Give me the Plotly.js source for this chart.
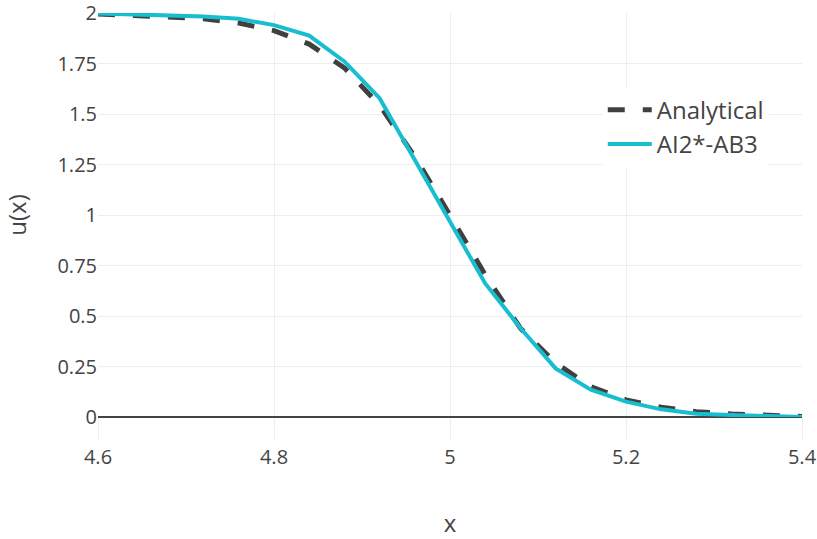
<!DOCTYPE html>
<html>
<head>
<meta charset="utf-8">
<script src="https://cdn.plot.ly/plotly-3.0.1.min.js"></script>
<style>html,body{margin:0;padding:0;background:#fff;}#chart{width:817px;height:539px;}</style>
</head>
<body>
<div id="chart"></div>
<script>
// x positions of the sampled points
const xValues = [4.60, 4.64, 4.68, 4.72, 4.76, 4.80, 4.84, 4.88, 4.92, 4.96, 5.00, 5.04, 5.08, 5.12, 5.16, 5.20, 5.24, 5.28, 5.32, 5.36, 5.40];
// Analytical solution
const analytical = [1.997, 1.990, 1.983, 1.974, 1.952, 1.915, 1.848, 1.730, 1.545, 1.290, 1.000, 0.705, 0.440, 0.268, 0.150, 0.085, 0.048, 0.026, 0.015, 0.008, 0.003];
// AI2*-AB3 numerical solution
const ai2ab3 = [2.000, 1.995, 1.990, 1.985, 1.973, 1.942, 1.890, 1.762, 1.580, 1.272, 0.968, 0.662, 0.441, 0.241, 0.135, 0.076, 0.038, 0.016, 0.010, 0.005, 0.000];
const seriesNames = ["Analytical", "AI2*-AB3"];
const xTickVals = [4.6, 4.8, 5.0, 5.2, 5.4];
const xTickText = ["4.6", "4.8", "5", "5.2", "5.4"];
const yTickVals = [0, 0.25, 0.5, 0.75, 1, 1.25, 1.5, 1.75, 2];
const yTickText = ["0", "0.25", "0.5", "0.75", "1", "1.25", "1.5", "1.75", "2"];

const traces = [
  {
    x: xValues, y: analytical, name: seriesNames[0], type: "scatter", mode: "lines",
    line: {color: "#404040", width: 5, dash: "17px,18px"}
  },
  {
    x: xValues, y: ai2ab3, name: seriesNames[1], type: "scatter", mode: "lines",
    line: {color: "#17becf", width: 4}
  }
];

const layout = {
  width: 817, height: 539,
  margin: {l: 98, r: 15, t: 13, b: 122, pad: 0},
  paper_bgcolor: "#fff", plot_bgcolor: "#fff",
  font: {family: "'Open Sans', sans-serif", color: "#444", size: 20},
  showlegend: true,
  legend: {
    x: 0.717, y: 0.815, xanchor: "left", yanchor: "top",
    bgcolor: "#fff", font: {size: 24, color: "#444"},
    itemwidth: 44, tracegroupgap: 0
  },
  xaxis: {
    range: [4.6, 5.4], tickmode: "array", tickvals: xTickVals, ticktext: xTickText,
    showgrid: true, gridcolor: "#eee", gridwidth: 1,
    ticks: "outside", ticklen: 22, tickcolor: "#eee", tickwidth: 1,
    zeroline: false, showline: false, ticklabeloverflow: "allow",
    tickfont: {size: 20, color: "#444"},
    title: {text: "x", font: {size: 24, color: "#444"}, standoff: 49}
  },
  yaxis: {
    range: [0, 2.002], tickmode: "array", tickvals: yTickVals, ticktext: yTickText,
    showgrid: true, gridcolor: "#eee", gridwidth: 1,
    zeroline: true, zerolinecolor: "#444", zerolinewidth: 2,
    showline: false, ticks: "", ticklabeloverflow: "allow",
    tickfont: {size: 20, color: "#444"},
    title: {text: "u(x)", font: {size: 24, color: "#444"}, standoff: 28}
  }
};

Plotly.newPlot("chart", traces, layout, {displayModeBar: false, staticPlot: true});
</script>
</body>
</html>
